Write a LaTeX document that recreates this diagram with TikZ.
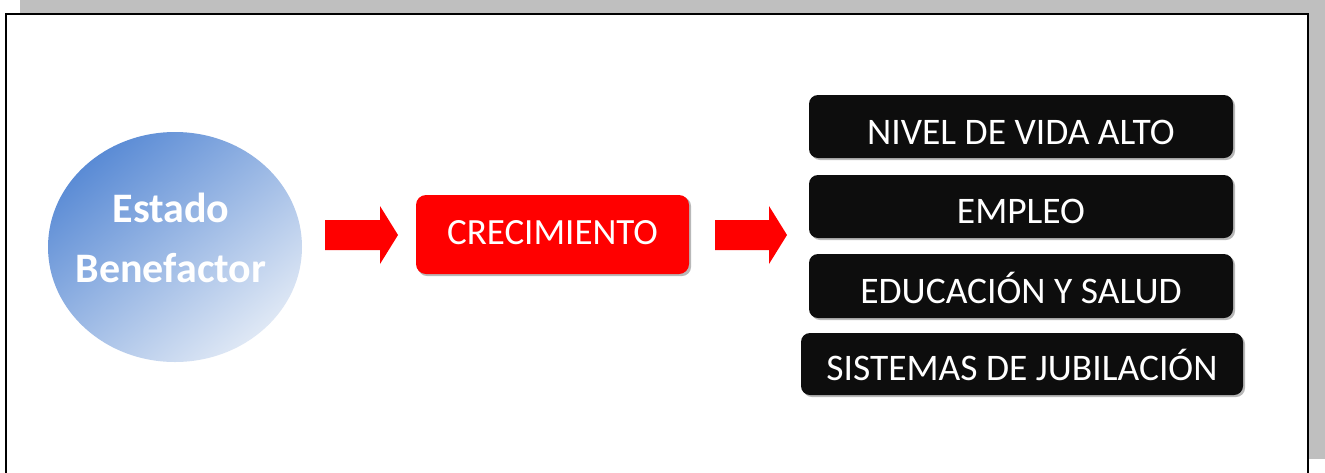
\documentclass[tikz,border=0pt]{standalone}
\usepackage{fontspec}
\setmainfont{Carlito}
\definecolor{shadowgray}{HTML}{BFBFBF}
\definecolor{boxblack}{HTML}{0D0D0D}
\definecolor{circdark}{HTML}{5A8BD5}
\definecolor{circlight}{HTML}{DFE8F5}
\definecolor{arrowred}{HTML}{FF0000}
\tikzset{
  blackbox/.style={draw=none, fill=boxblack, rounded corners=9pt, text=white,
    minimum height=63pt, inner sep=0pt, text height=34pt, text depth=0pt,
    font=\fontsize{37.5}{44}\selectfont},
  redbox/.style={draw=none, fill=arrowred, rounded corners=10pt, text=white,
    minimum width=273pt, minimum height=79pt, inner sep=0pt, text height=19pt, text depth=0pt,
    font=\fontsize{37}{44}\selectfont},
  boxshadow/.style={fill=black!28, rounded corners=9pt},
  bigarrow/.style={fill=arrowred, draw=none},
  frameline/.style={draw=black, line width=2pt}
}
\begin{document}
\begin{tikzpicture}[x=1pt,y=-1pt]
\useasboundingbox (0,0) rectangle (1325,472);
% page shadow and frame
\fill[shadowgray] (20,0) rectangle (1325,459);
\fill[white] (6,14) rectangle (1308,480);
\draw[frameline] (6,480) -- (6,14) -- (1308,14) -- (1308,480);
% circle
\path[shading=axis, top color=circdark, bottom color=circlight, shading angle=40]
  (175,247) ellipse [x radius=127, y radius=115];
\node[text=white, align=center, font=\bfseries\fontsize{42}{60}\selectfont] (estado) at (171,238) {Estado\\Benefactor};
% arrows
\fill[bigarrow] (325,220) -- (380,220) -- (380,206) -- (398,235) -- (380,264) -- (380,250) -- (325,250) -- cycle;
\fill[bigarrow] (715,220) -- (769,220) -- (769,206) -- (787,235) -- (769,264) -- (769,250) -- (715,250) -- cycle;
% red box
\fill[boxshadow] (418,197) rectangle (691,276);
\node[redbox] (crec) at (552.5,234.5) {CRECIMIENTO};
% black boxes
\fill[boxshadow] (811,97) rectangle (1235,160);
\node[blackbox, minimum width=424pt, text height=35pt] (nivel) at (1021,126.5) {NIVEL DE VIDA ALTO};
\fill[boxshadow] (811,177) rectangle (1235,240);
\node[blackbox, minimum width=424pt, text height=33pt] (empleo) at (1021,206.5) {EMPLEO};
\fill[boxshadow] (811,256) rectangle (1235,320);
\node[blackbox, minimum width=424pt, minimum height=64pt] (educ) at (1021,286) {EDUCACIÓN Y SALUD};
\fill[boxshadow] (803,335) rectangle (1245,397);
\node[blackbox, minimum width=442pt, minimum height=62pt, text height=32pt] (sist) at (1022,364) {SISTEMAS DE JUBILACIÓN};
\end{tikzpicture}
\end{document}
